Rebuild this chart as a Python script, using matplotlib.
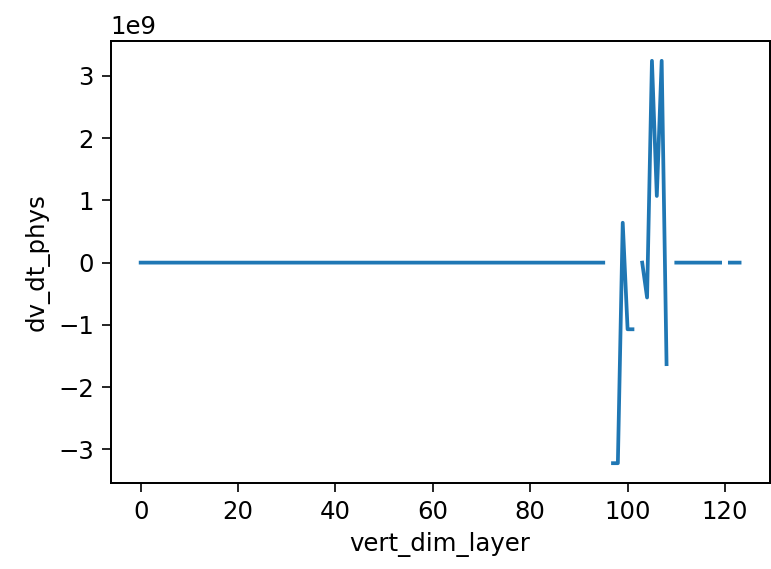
import matplotlib
matplotlib.use("Agg")
import matplotlib.pyplot as plt
import numpy as np

# layer index and physical tendency (units of 1e9); NaN where the data is missing
nan = np.nan
vert_dim_layer = np.arange(124)
dv_dt_phys = np.zeros(124)
dv_dt_phys[96] = nan
dv_dt_phys[97:102] = [-3.22, -3.22, 0.64, -1.07, -1.07]
dv_dt_phys[102] = nan
dv_dt_phys[103:109] = [0.0, -0.56, 3.24, 1.07, 3.24, -1.63]
dv_dt_phys[109] = nan
dv_dt_phys[120] = nan
dv_dt_phys = dv_dt_phys * 1e9

# reference looks like default style rendered a bit larger
plt.rcParams["font.size"] = 11.7
plt.rcParams["lines.linewidth"] = 1.8
plt.rcParams["xtick.major.size"] = 4.5
plt.rcParams["ytick.major.size"] = 4.5
plt.rcParams["axes.linewidth"] = 0.95

fig = plt.figure(figsize=(771 / 150, 569 / 150), dpi=150)
ax = fig.add_axes([0.1436, 0.1506, 0.8545, 0.7779])
ax.plot(vert_dim_layer, dv_dt_phys)
ax.set_xlabel("vert_dim_layer")
ax.set_ylabel("dv_dt_phys")
ax.set_xticks([0, 20, 40, 60, 80, 100, 120])
ax.set_yticks(np.array([-3, -2, -1, 0, 1, 2, 3]) * 1e9)
fig.savefig("out.png", dpi=150)
